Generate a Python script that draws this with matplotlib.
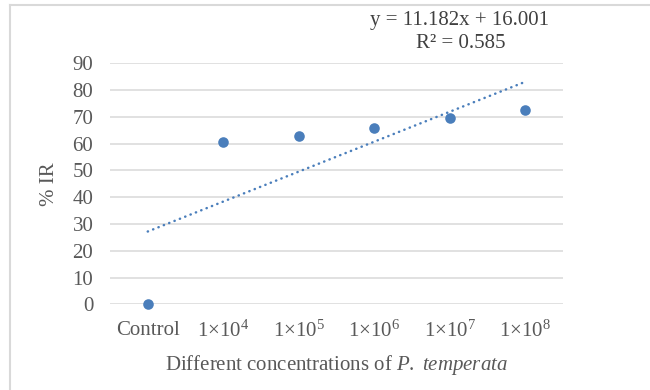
import matplotlib
matplotlib.use("Agg")
import matplotlib.pyplot as plt
from matplotlib.lines import Line2D
import numpy as np

categories = ["Control", "1×10$^4$", "1×10$^5$", "1×10$^6$", "1×10$^7$", "1×10$^8$"]
ir_values = [0.0, 60.5, 62.7, 65.7, 69.5, 72.4]
slope = 11.182
intercept = 16.001
r_squared = 0.585
y_ticks = [0, 10, 20, 30, 40, 50, 60, 70, 80, 90]

plt.rcParams['font.family'] = ['Liberation Serif', 'DejaVu Serif']
plt.rcParams['mathtext.fontset'] = 'custom'
plt.rcParams['mathtext.rm'] = 'Liberation Serif'
plt.rcParams['mathtext.it'] = 'Liberation Serif:italic'
plt.rcParams['mathtext.default'] = 'regular'

text_col = '#595959'
grid_col = '#d9d9d9'
blue = '#4a7ebb'
fs = 15

fig = plt.figure(figsize=(6.5, 3.9), dpi=100)
ax = fig.add_axes([110/650, 1-304.3/390, (563-110)/650, (304.3-63.3)/390])

x = np.arange(1, len(categories) + 1)
ax.scatter(x, ir_values, s=58, color=blue, zorder=3, clip_on=False, linewidths=0)
xt = np.array([x[0], x[-1]])
ax.plot(xt, slope * xt + intercept, color=blue, linestyle=(0, (0.1, 2.2)),
        linewidth=1.8, dash_capstyle='round', zorder=2, clip_on=False)

ax.set_xlim(0.5, len(categories) + 0.5)
ax.set_ylim(0, 90)
ax.set_yticks(y_ticks)
ax.set_xticks(x)
ax.set_xticklabels(categories)
ax.grid(axis='y', color=grid_col, linewidth=1.1)
ax.set_axisbelow(True)
for s in ['top', 'right', 'left', 'bottom']:
    ax.spines[s].set_visible(False)
ax.tick_params(length=0, labelsize=fs, colors=text_col)
ax.tick_params(axis='x', pad=12)
ax.tick_params(axis='y', pad=12)

ax.set_ylabel('% IR', fontsize=fs, color=text_col, labelpad=10)
ax.set_xlabel(r'Different concentrations of$\it{\ P.\ temperata}$', fontsize=fs,
              color=text_col, labelpad=8)

fig.text(460/650, 1-20/390, f'y = {slope}x + {intercept:.3f}', ha='center', va='center',
         fontsize=fs, color='#404040')
fig.text(461/650, 1-44/390, f'R² = {r_squared}', ha='center', va='center',
         fontsize=fs, color='#404040')

fig.add_artist(Line2D([10/650, 10/650], [0, 1-4.5/390], transform=fig.transFigure,
                      color=grid_col, linewidth=1.5))
fig.add_artist(Line2D([10/650, 1], [1-4.5/390, 1-4.5/390], transform=fig.transFigure,
                      color=grid_col, linewidth=1.5))

fig.savefig('out.png', dpi=100, facecolor='white')
